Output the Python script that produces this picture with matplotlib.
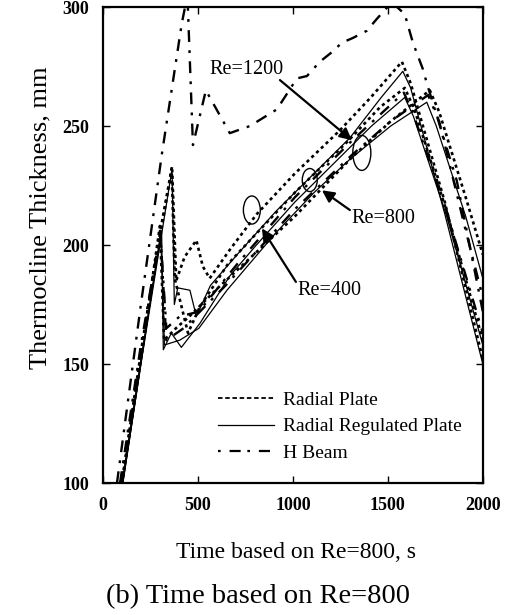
import matplotlib
matplotlib.use("Agg")
import matplotlib.pyplot as plt
from matplotlib.patches import Ellipse

plt.rcParams['font.family'] = ['Liberation Serif', 'DejaVu Serif']

# ---------------- data ----------------
# Radial Plate (dotted)
rp1_x = [100, 200, 300, 364, 386, 430, 492, 526, 562, 668, 810, 1010, 1245, 1410, 1574, 1620, 1800, 2000]
rp1_y = [100, 155, 205, 233, 185, 195, 202, 191, 186, 198, 213, 230, 248, 262, 277, 268, 218, 152]
rp2_x = [100, 200, 300, 362, 378, 396, 448, 510, 658, 810, 1010, 1282, 1460, 1589, 1640, 1810, 2000]
rp2_y = [100, 153, 203, 232, 186, 180, 163, 174, 192, 205, 222, 243, 258, 266, 257, 214, 160]
rp3_x = [100, 200, 300, 322, 384, 455, 606, 808, 1010, 1313, 1515, 1721, 1770, 1910, 2000]
rp3_y = [100, 152, 208, 160, 165, 170, 182, 197, 212, 237, 252, 265, 256, 220, 196]

# Radial Regulated Plate (solid)
rr1_x = [105, 200, 300, 364, 376, 394, 458, 492, 566, 707, 909, 1111, 1300, 1465, 1579, 1620, 1800, 2000]
rr1_y = [100, 150, 200, 232, 175, 182, 181, 170, 183, 196, 214, 230, 245, 262, 273, 266, 213, 150]
rr2_x = [100, 200, 309, 318, 360, 413, 510, 668, 808, 1010, 1212, 1414, 1589, 1635, 1810, 2000]
rr2_y = [100, 152, 206, 156, 163, 157, 167, 187, 200, 218, 234, 250, 262, 254, 212, 158]
rr3_x = [105, 200, 304, 324, 404, 505, 653, 909, 1111, 1300, 1515, 1705, 1755, 1910, 2000]
rr3_y = [100, 150, 205, 158, 160, 165, 181, 205, 222, 236, 250, 260, 250, 212, 186]

# H Beam (dash-dot)
hb1_x = [74, 200, 310, 415, 445, 474, 542, 668, 774, 916, 1021, 1074, 1142, 1205, 1258, 1316, 1389, 1442, 1521, 1589, 1632, 1684, 1705, 1863, 2000]
hb1_y = [100, 175, 238, 293, 305, 242, 265, 247, 250, 257, 270, 271, 277, 281, 285, 287, 290, 295, 302, 297, 285, 274, 268, 227, 172]
hb2_x = [90, 200, 302, 334, 404, 505, 707, 1010, 1313, 1584, 1630, 1810, 2000]
hb2_y = [100, 158, 205, 165, 170, 172, 192, 220, 244, 264, 256, 214, 163]
hb3_x = [95, 200, 302, 334, 424, 646, 1010, 1313, 1515, 1712, 1770, 1910, 2000]
hb3_y = [100, 155, 206, 160, 165, 183, 215, 238, 252, 263, 252, 206, 178]

x_ticks = [0, 500, 1000, 1500, 2000]
y_ticks = [100, 150, 200, 250, 300]
legend_labels = ["Radial Plate", "Radial Regulated Plate", "H Beam"]

# annotations
ann_texts = ["Re=1200", "Re=800", "Re=400"]
ann_text_xy = [(758, 273.8), (1474, 211.3), (1195, 181.0)]
ann_tail_xy = [(932, 269.3), (1300, 214.7), (1016, 184.5)]
ann_tip_xy = [(1311, 244.0), (1153, 223.0), (837, 207.0)]
ell_xy = [(784, 214.7), (1089, 227.3), (1363, 238.7)]
ell_wh = [(89, 11.8), (79, 9.7), (95, 14.7)]

# ---------------- figure ----------------
fig = plt.figure(figsize=(5.12, 6.15), dpi=100)
ax = fig.add_axes([0.201, 0.2146, 0.742, 0.774])

dot = (0, (1.2, 1.3))
dashdot = (0, (5, 3.5, 1.2, 3.5))

for xs, ys in [(rp1_x, rp1_y), (rp2_x, rp2_y), (rp3_x, rp3_y)]:
    ax.plot(xs, ys, color='black', lw=1.9, ls=dot)
for xs, ys in [(rr1_x, rr1_y), (rr2_x, rr2_y), (rr3_x, rr3_y)]:
    ax.plot(xs, ys, color='black', lw=0.9, ls='-')
for xs, ys in [(hb1_x, hb1_y), (hb2_x, hb2_y), (hb3_x, hb3_y)]:
    ax.plot(xs, ys, color='black', lw=1.7, ls=dashdot)

# legend proxies
h1, = ax.plot([], [], color='black', lw=1.3, ls=(0, (2.5, 1.5)))
h2, = ax.plot([], [], color='black', lw=0.9, ls='-')
h3, = ax.plot([], [], color='black', lw=1.6, ls=(0, (1.2, 4, 5, 3)))
ax.legend([h1, h2, h3], legend_labels, loc='lower left', bbox_to_anchor=(0.257, 0.008),
          frameon=False, fontsize=14, handlelength=2.9, handletextpad=0.45,
          labelspacing=0.45)

for t, txy, tail, tip in zip(ann_texts, ann_text_xy, ann_tail_xy, ann_tip_xy):
    ax.text(txy[0], txy[1], t, ha='center', va='center', fontsize=14.5)
    ax.annotate('', xy=tip, xytext=tail,
                arrowprops=dict(arrowstyle='-|>', lw=1.6, color='black',
                                mutation_scale=18, shrinkA=0, shrinkB=0))
for (cx, cy), (w, h) in zip(ell_xy, ell_wh):
    ax.add_patch(Ellipse((cx, cy), w, h, fill=False, lw=1.0, color='black'))

ax.set_xlim(0, 2000)
ax.set_ylim(100, 300)
ax.set_xticks(x_ticks)
ax.set_yticks(y_ticks)
ax.tick_params(direction='in', top=True, right=True, length=5, width=1,
               labelsize=13, pad=10)
for lab in ax.get_xticklabels() + ax.get_yticklabels():
    lab.set_fontweight('bold')
for sp in ax.spines.values():
    sp.set_linewidth(1.6)

fig.text(40 / 512, 1 - 218 / 615, "Thermocline Thickness, mm", rotation=90,
         ha='center', va='center', fontsize=19)
fig.text(0.578, 1 - 552 / 615, "Time based on Re=800, s", ha='center', va='center', fontsize=17)
fig.text(258 / 512, 1 - 597 / 615, "(b) Time based on Re=800", ha='center', va='center', fontsize=20.5)

fig.savefig("out.png", dpi=100)
